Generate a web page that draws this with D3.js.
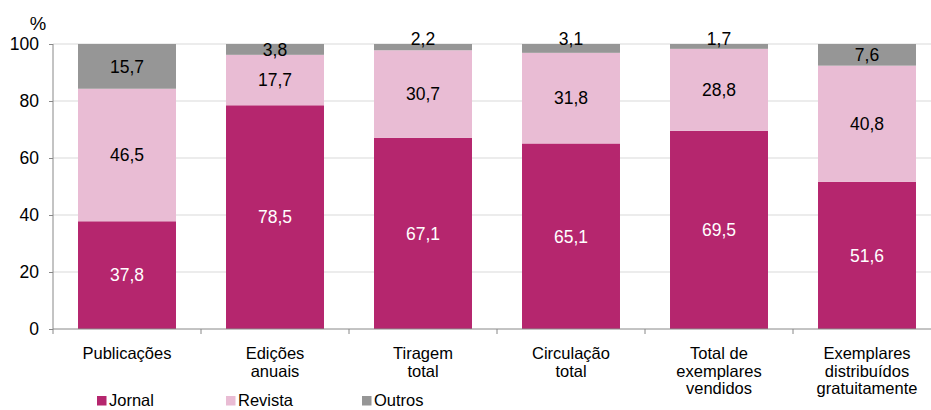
<!DOCTYPE html>
<html><head><meta charset="utf-8">
<script src="https://cdn.jsdelivr.net/npm/d3@7"></script>
<style>body{margin:0;background:#fff}svg{display:block;font-family:"Liberation Sans",Arial,sans-serif}</style>
</head><body><svg id="c" width="931" height="410"></svg>
<script>
const categories = [["Publicações"],["Edições","anuais"],["Tiragem","total"],["Circulação","total"],["Total de","exemplares","vendidos"],["Exemplares","distribuídos","gratuitamente"]];
const seriesNames = ["Jornal","Revista","Outros"];
const jornal = [37.8,78.5,67.1,65.1,69.5,51.6];
const revista = [46.5,17.7,30.7,31.8,28.8,40.8];
const outros = [15.7,3.8,2.2,3.1,1.7,7.6];
const yTicks = [0,20,40,60,80,100];
const colors = ["#b5266e","#e9bcd4","#969696"];
const labelColors = ["#fff","#000","#000"];
const FONT = "Liberation Sans, Arial, sans-serif";

const svg = d3.select("#c");
const x = d3.scaleBand().domain(d3.range(categories.length)).range([53,941]).paddingInner(0.338).paddingOuter(0.169);
const y = d3.scaleLinear().domain([0,100]).range([329,44]);

// gridlines
svg.append("g").selectAll("line").data(yTicks.filter(d=>d>0)).join("line")
  .attr("x1",53).attr("x2",931).attr("y1",d=>y(d)).attr("y2",d=>y(d))
  .attr("stroke","#d9d9d9").attr("stroke-width",1);

const data = categories.map((c,i)=>({i,Jornal:jornal[i],Revista:revista[i],Outros:outros[i]}));
const stack = d3.stack().keys(seriesNames)(data);

const g = svg.append("g");
stack.forEach((s,si)=>{
  g.append("g").selectAll("rect").data(s).join("rect")
    .attr("x",d=>x(d.data.i)).attr("width",x.bandwidth())
    .attr("y",d=>y(d[1])).attr("height",d=>y(d[0])-y(d[1]))
    .attr("fill",colors[si]);
});
stack.forEach((s,si)=>{
  g.append("g").selectAll("text").data(s).join("text")
    .attr("x",d=>x(d.data.i)+x.bandwidth()/2)
    .attr("y",d=>{const h=y(d[0])-y(d[1]); return h<10 ? y(d[1])-5 : (y(d[0])+y(d[1]))/2;})
    .attr("dy","0.36em").attr("text-anchor","middle").attr("font-size",17.5)
    .attr("fill",labelColors[si])
    .text(d=>d3.format(".1f")(d[1]-d[0]).replace(".",","));
});

// y axis
const ya = svg.append("g").attr("transform","translate(53,0)")
  .call(d3.axisLeft(y).tickValues(yTicks).tickSize(4).tickPadding(10));
ya.select(".domain").attr("stroke","#888").attr("d","M0,44V329");
ya.selectAll(".tick line").attr("stroke","#888");
ya.selectAll(".tick text").attr("font-size",17.5).attr("fill","#000").attr("font-family",FONT);
svg.append("text").attr("x",38).attr("y",30).attr("text-anchor","middle").attr("font-size",18.5).text("%");

// x axis
svg.append("line").attr("x1",53).attr("x2",931).attr("y1",329).attr("y2",329).attr("stroke","#888");
const step = x.step();
svg.append("g").selectAll("line").data(d3.range(categories.length+1)).join("line")
  .attr("x1",d=>53+d*step).attr("x2",d=>53+d*step).attr("y1",329).attr("y2",334).attr("stroke","#888");
const xl = svg.append("g").selectAll("text").data(categories).join("text")
  .attr("text-anchor","middle").attr("font-size",16.5)
  .attr("x",(d,i)=>x(i)+x.bandwidth()/2).attr("y",359);
xl.selectAll("tspan").data(d=>d).join("tspan")
  .attr("x",function(){return this.parentNode.getAttribute("x");})
  .attr("dy",(d,j)=>j===0?0:17.5).text(d=>d);

// legend
const legX = [97,226,362];
const lg = svg.append("g").selectAll("g").data(seriesNames).join("g")
  .attr("transform",(d,i)=>`translate(${legX[i]},396)`);
lg.append("rect").attr("width",9.5).attr("height",9.5).attr("y",0).attr("fill",(d,i)=>colors[i]);
lg.append("text").attr("x",12).attr("y",10).attr("font-size",16.5).text(d=>d);
</script></body></html>
